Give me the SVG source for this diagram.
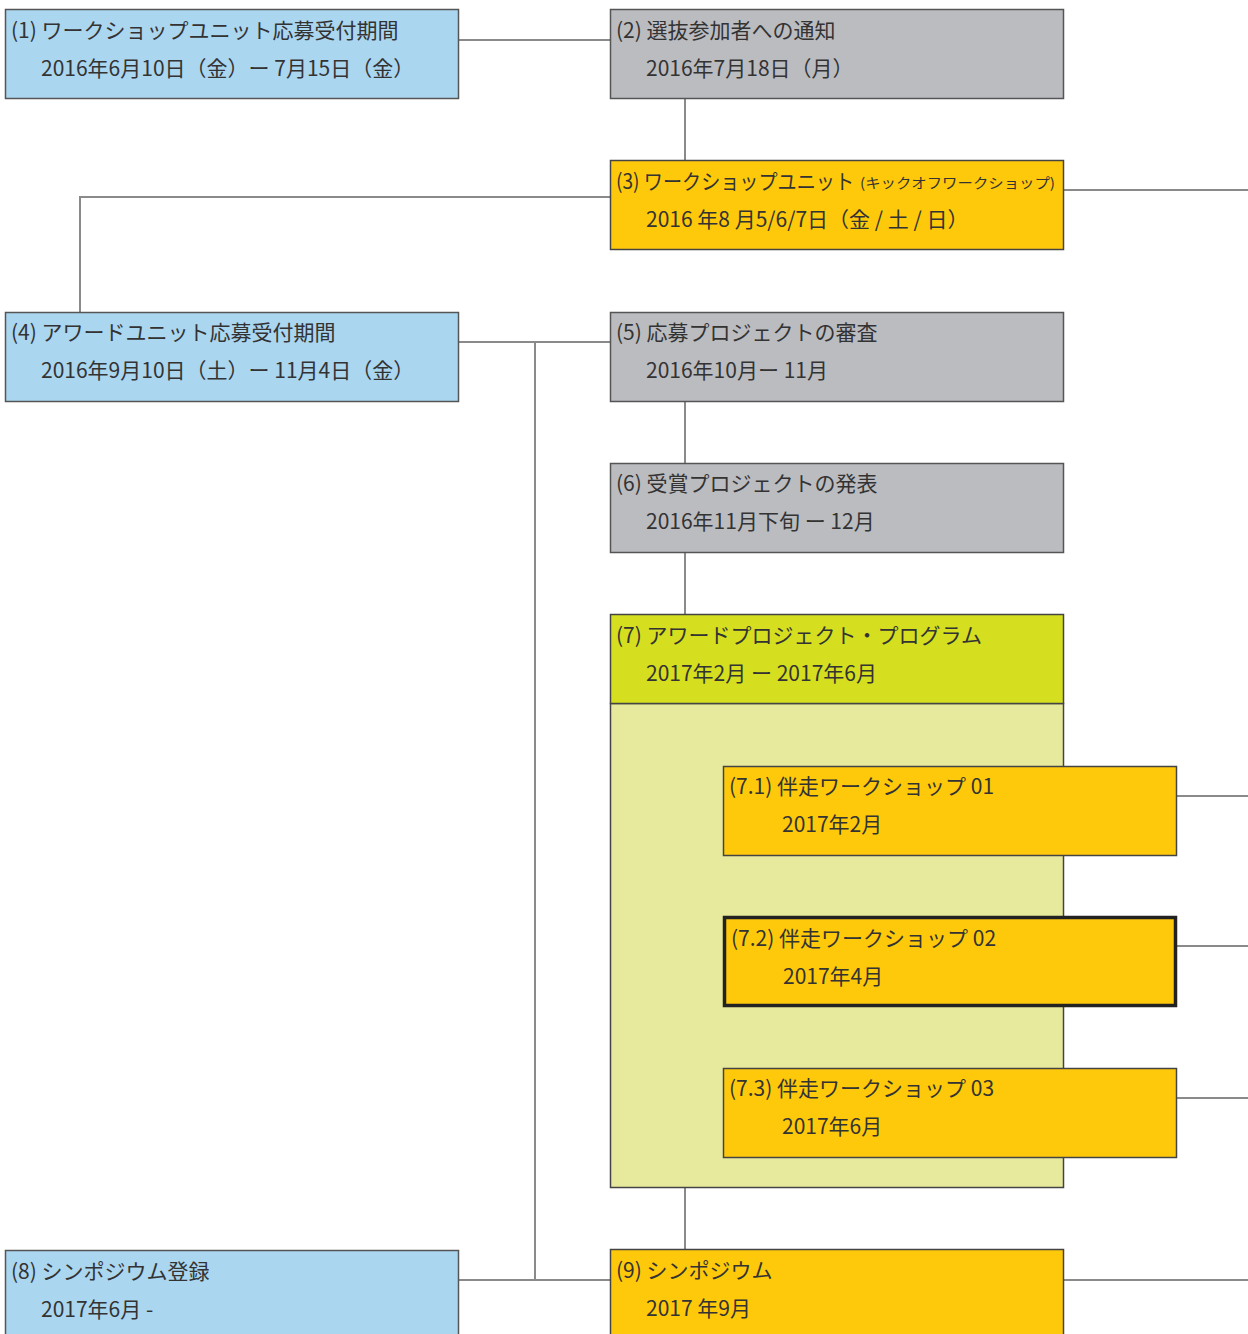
<svg xmlns="http://www.w3.org/2000/svg" width="1248" height="1334" viewBox="0 0 1248 1334">
<style>
.t{font-family:"Noto Sans CJK JP","Noto Sans",sans-serif;font-size:21px;fill:#333}
.s{font-size:14px}
.blue{fill:#abd6f0;stroke:#555;stroke-width:1.5}
.gray{fill:#bbbcc0;stroke:#555;stroke-width:1.5}
.yel{fill:#fec90b;stroke:#444;stroke-width:1.5}
.lime{fill:#d5df1f;stroke:#444;stroke-width:1.5}
.pale{fill:#e7ea9c;stroke:#444;stroke-width:1.5}
.c{fill:none;stroke:#8a8a8a;stroke-width:2}
</style>
<rect width="1248" height="1334" fill="#fff"/>
<g id="connectors">
<path class="c" d="M458 40H610"/>
<path class="c" d="M685 98V160"/>
<path class="c" d="M1063 190H1248"/>
<path class="c" d="M80 312V197H610"/>
<path class="c" d="M458 342H610"/>
<path class="c" d="M535 342V1280"/>
<path class="c" d="M685 401V463"/>
<path class="c" d="M685 552V614"/>
<path class="c" d="M1176 796H1248"/>
<path class="c" d="M1176 946H1248"/>
<path class="c" d="M1176 1098H1248"/>
<path class="c" d="M685 1187V1249"/>
<path class="c" d="M458 1280H610"/>
<path class="c" d="M1063 1280H1248"/>
</g>
<g id="n1"><rect class="blue" x="5.5" y="9.5" width="453" height="89"/>
<text class="t" x="11" y="38">(1) ワークショップユニット応募受付期間</text>
<text class="t" x="41" y="76">2016年6月10日（金）ー 7月15日（金）</text></g>
<g id="n2"><rect class="gray" x="610.5" y="9.5" width="453" height="89"/>
<text class="t" x="616" y="38">(2) 選抜参加者への通知</text>
<text class="t" x="646" y="76">2016年7月18日（月）</text></g>
<g id="n3"><rect class="yel" x="610.5" y="160.5" width="453" height="89"/>
<text class="t" x="616" y="189" textLength="238" lengthAdjust="spacingAndGlyphs">(3) ワークショップユニット</text>
<text class="t s" x="860" y="188" textLength="195" lengthAdjust="spacingAndGlyphs">(キックオフワークショップ)</text>
<text class="t" x="646" y="227">2016 年8 月5/6/7日（金 / 土 / 日）</text></g>
<g id="n4"><rect class="blue" x="5.5" y="312.5" width="453" height="89"/>
<text class="t" x="11" y="340">(4) アワードユニット応募受付期間</text>
<text class="t" x="41" y="378">2016年9月10日（土）ー 11月4日（金）</text></g>
<g id="n5"><rect class="gray" x="610.5" y="312.5" width="453" height="89"/>
<text class="t" x="616" y="340">(5) 応募プロジェクトの審査</text>
<text class="t" x="646" y="378">2016年10月ー 11月</text></g>
<g id="n6"><rect class="gray" x="610.5" y="463.5" width="453" height="89"/>
<text class="t" x="616" y="491">(6) 受賞プロジェクトの発表</text>
<text class="t" x="646" y="529">2016年11月下旬 ー 12月</text></g>
<g id="n7"><rect class="pale" x="610.5" y="703.5" width="453" height="484"/>
<rect class="lime" x="610.5" y="614.5" width="453" height="89"/>
<text class="t" x="616" y="643">(7) アワードプロジェクト・プログラム</text>
<text class="t" x="646" y="681">2017年2月 ー 2017年6月</text></g>
<g id="n7-1"><rect class="yel" x="723.5" y="766.5" width="453" height="89"/>
<text class="t" x="729" y="794">(7.1) 伴走ワークショップ 01</text>
<text class="t" x="782" y="832">2017年2月</text></g>
<g id="n7-2"><rect class="yel" x="724.5" y="917.5" width="451" height="88" style="stroke:#222;stroke-width:3.5"/>
<text class="t" x="731" y="946">(7.2) 伴走ワークショップ 02</text>
<text class="t" x="783" y="984">2017年4月</text></g>
<g id="n7-3"><rect class="yel" x="723.5" y="1068.5" width="453" height="89"/>
<text class="t" x="729" y="1096">(7.3) 伴走ワークショップ 03</text>
<text class="t" x="782" y="1134">2017年6月</text></g>
<g id="n8"><rect class="blue" x="5.5" y="1250.5" width="453" height="100"/>
<text class="t" x="11" y="1279">(8) シンポジウム登録</text>
<text class="t" x="41" y="1317">2017年6月 -</text></g>
<g id="n9"><rect class="yel" x="610.5" y="1249.5" width="453" height="100"/>
<text class="t" x="616" y="1278">(9) シンポジウム</text>
<text class="t" x="646" y="1316">2017 年9月</text></g>
</svg>
